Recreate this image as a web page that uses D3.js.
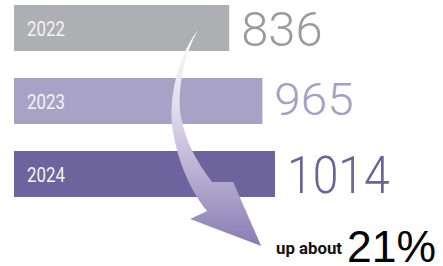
<!DOCTYPE html>
<html><head><meta charset="utf-8">
<script src="https://cdn.jsdelivr.net/npm/d3@7"></script>
<style>html,body{margin:0;padding:0;background:#fff;overflow:hidden}</style>
</head><body>
<svg id="chart" width="443" height="266"></svg>
<script>
// ---- data ----
const years = ["2022", "2023", "2024"];
const values = [836, 965, 1014];
const changeLabel = "up about";
const changeValue = "21%";

// ---- styles ----
const barColors = ["#aeafb3", "#a8a3c6", "#6e649d"];
const valueColors = ["#9b9b9d", "#a49fc5", "#6c629c"];
const valueFontSizes = [48, 45, 52];
const valueWeights = [300, 300, 350];
const valueInkWidths = [78, 76, 99];
const valueBaselineOffsets = [18, 14, 19];

const svg = d3.select("#chart");
const x = d3.scaleLinear().domain([0, d3.max(values)]).range([14, 275]);
const y = d3.scaleBand().domain(years).range([5, 197]).paddingInner(0.37).paddingOuter(0);
const bw = y.bandwidth();

const data = years.map((yr, i) => ({yr, v: values[i], i}));

svg.selectAll("rect.bar").data(data).join("rect")
  .attr("class", "bar")
  .attr("x", x(0)).attr("y", d => y(d.yr))
  .attr("width", d => x(d.v) - x(0)).attr("height", bw)
  .attr("fill", d => barColors[d.i]);

svg.selectAll("text.yr").data(data).join("text")
  .attr("class", "yr")
  .attr("x", x(0) + 13).attr("y", d => y(d.yr) + bw / 2 + 8)
  .attr("font-family", "Roboto, 'Liberation Sans Narrow', sans-serif")
  .attr("font-weight", 400).attr("font-size", 20)
  .attr("textLength", 38).attr("lengthAdjust", "spacingAndGlyphs")
  .attr("fill", "#f3f2f7").text(d => d.yr);

// arrow (drawn over bars)
const defs = svg.append("defs");
const grad = defs.append("linearGradient").attr("id", "ag")
  .attr("x1", 0).attr("y1", 0).attr("x2", 0).attr("y2", 1);
grad.append("stop").attr("offset", "0%").attr("stop-color", "#ffffff");
grad.append("stop").attr("offset", "40%").attr("stop-color", "#dcd8ea");
grad.append("stop").attr("offset", "100%").attr("stop-color", "#877cb3");

const b0 = y(years[0]), b1 = y(years[1]), b2 = y(years[2]);
const ox = x(values[0]) - 31; // arrow origin relative to first bar end
const p = d3.path();
p.moveTo(ox, b0 + 25);
p.bezierCurveTo(ox - 14, b0 + 48, ox - 22, b1 + 15, ox - 17, b1 + 40);
p.bezierCurveTo(ox - 12, b1 + 65, ox - 2, b2 + 10, ox + 14, b2 + 31);
p.lineTo(ox + 35, b2 + 31);
p.lineTo(ox + 63, b2 + 95);
p.lineTo(ox - 8, b2 + 68);
p.lineTo(ox + 9, b2 + 60);
p.bezierCurveTo(ox - 8, b2 + 40, ox - 20, b2 + 10, ox - 25, b1 + 55);
p.bezierCurveTo(ox - 30, b1 + 30, ox - 24, b0 + 55, ox, b0 + 25);
p.closePath();
svg.append("path").attr("d", p.toString()).attr("fill", "url(#ag)");

svg.selectAll("text.val").data(data).join("text")
  .attr("class", "val")
  .attr("x", d => x(d.v) + 12)
  .attr("y", d => y(d.yr) + bw / 2 + valueBaselineOffsets[d.i])
  .attr("font-family", "Roboto, sans-serif")
  .attr("font-weight", d => valueWeights[d.i])
  .attr("font-size", d => valueFontSizes[d.i])
  .attr("textLength", d => valueInkWidths[d.i] + valueFontSizes[d.i] * 0.07)
  .attr("lengthAdjust", "spacingAndGlyphs")
  .attr("fill", d => valueColors[d.i]).text(d => d.v);

svg.append("text").attr("x", 276).attr("y", 254)
  .attr("font-family", "'Liberation Sans Narrow', Roboto, sans-serif")
  .attr("font-weight", 700).attr("font-size", 17)
  .attr("textLength", 66).attr("lengthAdjust", "spacingAndGlyphs")
  .attr("fill", "#111").text(changeLabel);
svg.append("text").attr("x", 347).attr("y", 262)
  .attr("font-family", "'Liberation Sans', Arial, sans-serif")
  .attr("font-size", 45)
  .attr("textLength", 89).attr("lengthAdjust", "spacingAndGlyphs")
  .attr("fill", "#000").text(changeValue);
</script>
</body></html>
